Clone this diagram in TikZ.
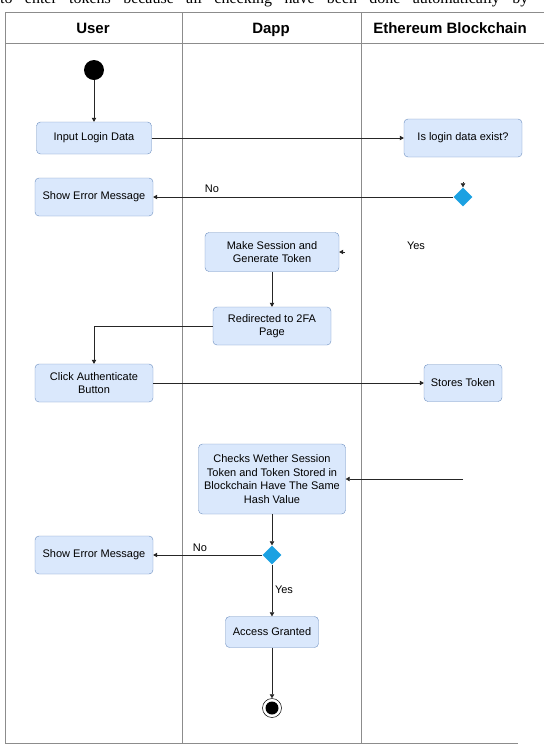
\documentclass[tikz,border=0pt]{standalone}
\usepackage{fontspec}
\setmainfont{Liberation Sans}
\newfontfamily\paraserif{Liberation Serif}
\usetikzlibrary{shapes.geometric,arrows.meta}
\definecolor{boxfill}{HTML}{DAE8FC}
\definecolor{boxline}{HTML}{6C8EBF}
\definecolor{decfill}{HTML}{1BA1E2}
\definecolor{laneline}{HTML}{8C8C8C}
\tikzset{
  activity/.style={draw=boxline,fill=boxfill,rounded corners=4pt,align=center,
    font=\fontsize{11}{13.5}\selectfont,inner sep=0pt},
  decision/.style={diamond,fill=decfill,minimum size=19pt,inner sep=0pt},
  startstate/.style={circle,fill=black,minimum size=20pt,inner sep=0pt},
  endstate/.style={circle,draw=black,line width=0.5pt,fill=white,minimum size=19pt,inner sep=0pt},
  flow/.style={draw=black!85,line width=0.6pt,-{Triangle[width=4.5pt,length=4pt]}},
  lane/.style={draw=laneline,line width=0.9pt},
  lanehead/.style={font=\fontsize{15}{18}\selectfont\bfseries,anchor=base,inner sep=0pt},
  guard/.style={font=\fontsize{11}{13}\selectfont,inner sep=0pt},
}
\begin{document}
\begin{tikzpicture}[x=1pt,y=-1pt]
\useasboundingbox (0,0) rectangle (544,748);
% text of the page above the figure, cut off
\begin{scope}
\clip (0,0) rectangle (544,12);
\node[anchor=base west,inner sep=0pt,font=\paraserif\fontsize{16}{18}\selectfont] (para) at (0,3.5)
  {\hbox to 528pt{to\hfill enter\hfill tokens\hfill because\hfill all\hfill checking\hfill have\hfill been\hfill done\hfill automatically\hfill by}};
\end{scope}
% swimlanes
\draw[lane] (544,12) -- (5,12) -- (5,743) -- (518,743);
\draw[lane] (5,43) -- (544,43);
\draw[lane] (182,12) -- (182,743);
\draw[lane] (361,12) -- (361,743);
\node[lanehead] (hUser) at (93,33) {User};
\node[lanehead] (hDapp) at (271,33) {Dapp};
\node[lanehead] (hChain) at (450,33) {Ethereum Blockchain};
% activities
\node[startstate] (start) at (94,70) {};
\node[activity,minimum width=115pt,minimum height=32pt] (login) at (94,138) {Input Login Data};
\node[activity,minimum width=118pt,minimum height=38pt] (exist) at (463,138) {Is login data exist?};
\node[decision] (dec1) at (463,197) {};
\node[activity,minimum width=118pt,minimum height=38pt] (err1) at (94,197) {Show Error Message};
\node[activity,minimum width=134pt,minimum height=39pt] (session) at (272,252) {Make Session and\\Generate Token};
\node[activity,minimum width=118pt,minimum height=38pt] (redirect) at (272,326) {Redirected to 2FA\\Page};
\node[activity,minimum width=118pt,minimum height=38pt] (click) at (94,383) {Click Authenticate\\Button};
\node[activity,minimum width=78pt,minimum height=37pt] (stores) at (463,383) {Stores Token};
\node[activity,minimum width=147pt,minimum height=70pt] (checks) at (272,479) {Checks Wether Session\\Token and Token Stored in\\Blockchain Have The Same\\Hash Value};
\node[decision] (dec2) at (272,555) {};
\node[activity,minimum width=118pt,minimum height=38pt] (err2) at (94,555) {Show Error Message};
\node[activity,minimum width=93pt,minimum height=31pt] (granted) at (272,632) {Access Granted};
\node[endstate] (end) at (272,708) {};
\fill[black] (end.center) circle[radius=6.5];
% loose ends
\coordinate (d1in) at (463,182);
\coordinate (sin) at (345,252);
\coordinate (cin) at (463,479);
% flows
\draw[flow] (start) -- (login);
\draw[flow] (login.east) -- (exist.west);
\draw[flow] (d1in) -- (dec1.north);
\draw[flow] (dec1.west) -- (err1.east);
\node[guard] (no1) at (212,189) {No};
\node[guard] (yes1) at (416,246) {Yes};
\draw[flow] (sin) -- (session.east);
\draw[flow] (session) -- (redirect);
\draw[flow] (redirect.west) -| (click.north);
\draw[flow] (click.east) -- (stores.west);
\draw[flow] (cin) -- (checks.east);
\draw[flow] (checks) -- (dec2.north);
\draw[flow] (dec2.west) -- (err2.east);
\node[guard] (no2) at (200,548) {No};
\draw[flow] (dec2.south) -- (granted.north);
\node[guard] (yes2) at (284,590) {Yes};
\draw[flow] (granted) -- (end);
\end{tikzpicture}
\end{document}
